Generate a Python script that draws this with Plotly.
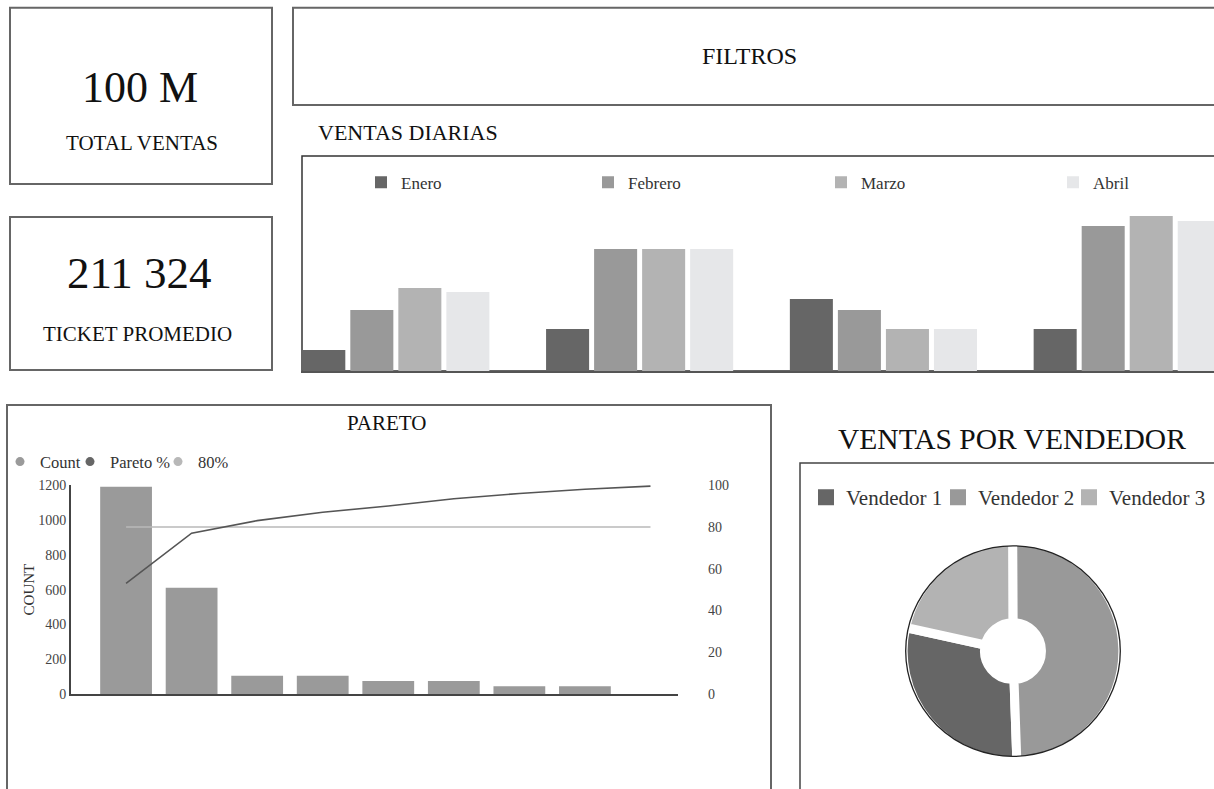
import plotly.graph_objects as go

W, H = 1214, 789
# the page is photographed with an ~8px top offset and ~0.981 vertical scale:
# positions below are given in picture pixels and converted here.
OFF, SC = 7.9, 0.981


def px(x):
    return x / W


def py(y):
    fy = (y - OFF) / SC
    return 1 - fy / H


# ---------------- data ----------------
kpi_total_ventas = "100 M"
kpi_ticket_promedio = "211 324"

dias = ["Día 1", "Día 2", "Día 3", "Día 4"]
meses = ["Enero", "Febrero", "Marzo", "Abril"]
ventas_enero = [21, 42, 72, 42]
ventas_febrero = [61, 122, 61, 145]
ventas_marzo = [83, 122, 42, 155]
ventas_abril = [79, 122, 42, 150]
colores_meses = ["#666666", "#999999", "#b3b3b3", "#e6e7e9"]

pareto_cats = ["C1", "C2", "C3", "C4", "C5", "C6", "C7", "C8", "C9"]
pareto_count = [1190, 610, 105, 105, 75, 75, 45, 45]
pareto_pct = [53, 77, 83, 87, 90, 93.5, 96, 98, 99.5]
umbral_80 = [80, 80, 80, 80, 80, 80, 80, 80, 80]
count_ticks = [0, 200, 400, 600, 800, 1000, 1200]
pct_ticks = [0, 20, 40, 60, 80, 100]

vendedores = ["Vendedor 1", "Vendedor 2", "Vendedor 3"]
ventas_vendedor = [29, 49.5, 21.5]
colores_vendedores = ["#666666", "#999999", "#b3b3b3"]

FONT = "Liberation Serif"
TXT = "#333333"

fig = go.Figure()

# ---------------- Ventas diarias ----------------
month_legends = ["legend", "legend4", "legend5", "legend6"]
for mes, vals, col, lg in zip(meses, [ventas_enero, ventas_febrero, ventas_marzo, ventas_abril],
                              colores_meses, month_legends):
    fig.add_trace(go.Bar(x=dias, y=vals, name=mes, marker=dict(color=col, line=dict(width=0)),
                         xaxis="x", yaxis="y", legend=lg))

# ---------------- Pareto ----------------
fig.add_trace(go.Bar(x=pareto_cats[:len(pareto_count)], y=pareto_count, name="Count", width=0.79,
                     marker=dict(color="#9a9a9a", line=dict(width=0)), xaxis="x2", yaxis="y2",
                     showlegend=False, legendgroup="count"))
fig.add_trace(go.Scatter(x=pareto_cats, y=umbral_80, mode="lines", name="80%",
                         line=dict(color="#b8b8b8", width=1.5), xaxis="x2", yaxis="y3",
                         showlegend=False, legendgroup="p80"))
fig.add_trace(go.Scatter(x=pareto_cats, y=pareto_pct, mode="lines", name="Pareto %",
                         line=dict(color="#555555", width=1.6), xaxis="x2", yaxis="y3",
                         showlegend=False, legendgroup="pct"))
for nm, col, grp, lg in [("Count", "#9a9a9a", "count", "legend2"),
                         ("Pareto %", "#666666", "pct", "legend7"),
                         ("80%", "#b8b8b8", "p80", "legend8")]:
    fig.add_trace(go.Scatter(x=[None], y=[None], mode="markers", name=nm, legendgroup=grp,
                             marker=dict(symbol="circle", size=9, color=col),
                             xaxis="x2", yaxis="y2", legend=lg))

# ---------------- Pie ----------------
pcx, pcy, R = 1013, 652, 112
cy_paper = py(pcy)
fig.add_trace(go.Pie(labels=vendedores, values=ventas_vendedor, hole=0.259, sort=False,
                     direction="counterclockwise", rotation=178,
                     marker=dict(colors=colores_vendedores, line=dict(color="white", width=9)),
                     textinfo="none", hoverinfo="label+percent", showlegend=False,
                     domain=dict(x=[px(pcx - R), px(pcx + R)], y=[cy_paper - R / H, cy_paper + R / H])))
for nm, col, lg in zip(vendedores, colores_vendedores, ["legend3", "legend9", "legend10"]):
    fig.add_trace(go.Scatter(x=[None], y=[None], mode="markers", name=nm,
                             marker=dict(symbol="square", size=16, color=col),
                             xaxis="x2", yaxis="y2", legend=lg))

# ---------------- shapes (panels) ----------------
shapes = []


def rect(x0, y0, x1, y1, color="#666666", width=2):
    shapes.append(dict(type="rect", xref="paper", yref="paper", x0=px(x0), x1=px(x1),
                       y0=py(y1), y1=min(py(y0), 0.999),
                       line=dict(color=color, width=width), fillcolor="rgba(0,0,0,0)", layer="below"))


rect(10, 6, 272, 185)
rect(10, 218, 272, 371)
rect(293, 6, 1222, 106)
rect(302, 157, 1222, 372, color="#333333", width=1.5)
rect(7, 406, 771, 820)
rect(800, 464, 1222, 820, color="#444444", width=1.5)
vis_r = 107.3
shapes.append(dict(type="circle", xref="paper", yref="paper", x0=px(pcx - vis_r), x1=px(pcx + vis_r),
                   y0=cy_paper - vis_r / H, y1=cy_paper + vis_r / H,
                   line=dict(color="#222222", width=1.3), layer="above"))

# ---------------- annotations ----------------
ann = []


def text(x, y, s, size, xanchor="center", color="#111111"):
    ann.append(dict(x=px(x), y=py(y), xref="paper", yref="paper", text=s, showarrow=False,
                    xanchor=xanchor, yanchor="middle", font=dict(family=FONT, size=size, color=color)))


text(140, 88, kpi_total_ventas, 44)
text(142, 144, "TOTAL VENTAS", 21)
text(139, 274, kpi_ticket_promedio, 45)
text(137, 335, "TICKET PROMEDIO", 21)
text(749, 57, "FILTROS", 24)
text(316, 133, "VENTAS DIARIAS", 22, xanchor="left")
text(386, 424, "PARETO", 21)
text(1012, 440, "VENTAS POR VENDEDOR", 29.5)

tickfont = dict(family=FONT, size=14, color="#444444")


def leg(x, ytop, size):
    return dict(orientation="h", x=px(x), y=py(ytop), xanchor="left", yanchor="top",
                font=dict(family=FONT, size=size, color=TXT), bgcolor="rgba(0,0,0,0)")


fig.update_layout(
    width=W, height=H, margin=dict(l=0, r=0, t=0, b=0),
    paper_bgcolor="white", plot_bgcolor="white",
    font=dict(family=FONT, color=TXT),
    barmode="group", bargap=0.212, bargroupgap=0.104,
    shapes=shapes, annotations=ann,
    xaxis=dict(domain=[px(301), 1.0], range=[-0.389, 3.356], anchor="y", showline=True,
               linecolor="#555555", linewidth=2, showticklabels=False, ticks="", showgrid=False,
               zeroline=False),
    yaxis=dict(domain=[py(372), py(157)], range=[0, 215], anchor="x", visible=False),
    xaxis2=dict(domain=[px(71), px(678)], range=[-0.84, 8.42], anchor="y2", type="category",
                showline=True, linecolor="#444444", linewidth=2, showticklabels=False, ticks="",
                showgrid=False, zeroline=False),
    yaxis2=dict(domain=[py(695), py(486)], range=[0, 1200], anchor="x2", showline=True,
                linecolor="#444444", linewidth=2, tickvals=count_ticks, tickfont=tickfont, ticks="",
                showgrid=False, zeroline=False,
                title=dict(text="COUNT", font=dict(family=FONT, size=15, color=TXT), standoff=0)),
    yaxis3=dict(overlaying="y2", anchor="free", position=px(707), side="right", range=[0, 100],
                tickvals=pct_ticks, tickfont=tickfont, ticks="", showline=False, showgrid=False,
                zeroline=False),
    legend=leg(361, 165.7, 17),
    legend4=leg(588, 165.7, 17),
    legend5=leg(821, 165.7, 17),
    legend6=leg(1053, 165.7, 17),
    legend2=leg(0, 445.3, 16.5),
    legend7=leg(70, 445.3, 16.5),
    legend8=leg(158, 445.3, 16.5),
    legend3=leg(806, 478, 21),
    legend9=leg(938, 478, 21),
    legend10=leg(1069, 478, 21),
    showlegend=True,
)

fig.write_html("out.html")
